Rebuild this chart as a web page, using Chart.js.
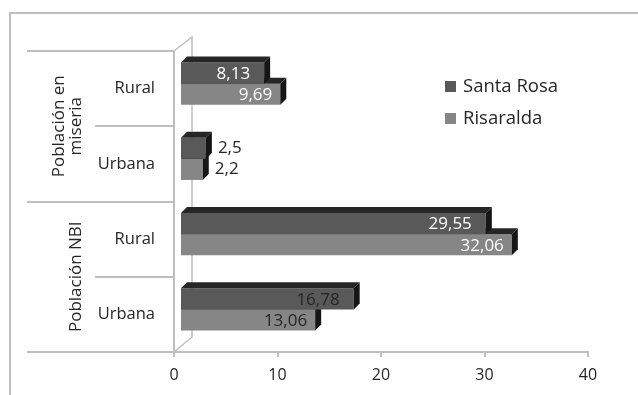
<!DOCTYPE html>
<html>
<head>
<meta charset="utf-8">
<script src="https://cdn.jsdelivr.net/npm/chart.js@4.4.1/dist/chart.umd.min.js"></script>
<style>
  html, body { margin: 0; padding: 0; background: #ffffff; }
  #wrap { width: 638px; height: 395px; position: relative; }
</style>
</head>
<body>
<div id="wrap"><canvas id="chart" width="638" height="395"></canvas></div>
<script>
// Categories (top to bottom) and the two groups they belong to
const categories = ['Rural', 'Urbana', 'Rural', 'Urbana'];
const groupNames = [['Población en', 'miseria'], ['Población NBI']];
const groupSizes = [2, 2];

// Series values (%)
const seriesNames = ['Santa Rosa', 'Risaralda'];
const santaRosa = [8.13, 2.5, 29.55, 16.78];
const risaralda = [9.69, 2.2, 32.06, 13.06];

// Value axis
const xMin = 0;
const xMax = 40;
const xStep = 10;

const FONT = '"Open Sans", "Noto Sans", sans-serif';
const TEXT = '#262626';
const LINE = '#bfbfbf';
const BAR_DEPTH = 6;              // depth of each 3D bar
const WALL_DX = 18, WALL_DY = 15; // depth of the back wall

const fmt = v => String(v).replace('.', ',');

// 3D faces for bars, drawn slightly back inside the depth of the plot
const bars3d = {
  id: 'bars3d',
  beforeDatasetsDraw(chart) {
    const { ctx, chartArea, scales } = chart;
    const x0 = scales.x.getPixelForValue(xMin);
    // back wall outline
    ctx.save();
    ctx.strokeStyle = LINE;
    ctx.lineWidth = 1.5;
    ctx.beginPath();
    ctx.moveTo(x0, chartArea.top);
    ctx.lineTo(x0 + WALL_DX, chartArea.top - WALL_DY + 1);
    ctx.lineTo(x0 + WALL_DX, chartArea.bottom - WALL_DY);
    ctx.lineTo(x0, chartArea.bottom);
    ctx.stroke();
    ctx.restore();

    ctx.save();
    ctx.translate(BAR_DEPTH, -BAR_DEPTH + 1);
  },
  afterDatasetDraw(chart, args) {
    const { ctx } = chart;
    const d = BAR_DEPTH;
    args.meta.data.forEach(bar => {
      const { x, y, base, height } = bar.getProps(['x', 'y', 'base', 'height'], true);
      const top = y - height / 2, bottom = y + height / 2;
      ctx.fillStyle = '#262626';
      ctx.beginPath();
      ctx.moveTo(base, top);
      ctx.lineTo(x, top);
      ctx.lineTo(x + d, top - d);
      ctx.lineTo(base + d, top - d);
      ctx.closePath();
      ctx.fill();
      ctx.fillStyle = '#161616';
      ctx.beginPath();
      ctx.moveTo(x, top);
      ctx.lineTo(x + d, top - d);
      ctx.lineTo(x + d, bottom - d);
      ctx.lineTo(x, bottom);
      ctx.closePath();
      ctx.fill();
    });
  },
  afterDatasetsDraw(chart) {
    const { ctx } = chart;
    ctx.font = '17px ' + FONT;
    ctx.textBaseline = 'middle';
    chart.data.datasets.forEach((ds, i) => {
      const meta = chart.getDatasetMeta(i);
      meta.data.forEach((bar, j) => {
        const { x, y, base } = bar.getProps(['x', 'y', 'base'], true);
        const txt = fmt(ds.data[j]);
        ctx.fillStyle = ds.labelColors[j];
        if (x - base > 45) {
          ctx.textAlign = 'right';
          ctx.fillText(txt, x - ds.labelInset, y + 1);
        } else {
          ctx.textAlign = 'left';
          ctx.fillText(txt, x + BAR_DEPTH + 6, y);
        }
      });
    });
    ctx.restore();
  }
};

// Outer frame, category separators, group titles and legend
const frame = {
  id: 'frame',
  afterDraw(chart) {
    const { ctx, chartArea, scales } = chart;
    const ys = scales.y;
    const x0 = scales.x.getPixelForValue(xMin);
    const boundary = i => i <= 0 ? chartArea.top
      : i >= categories.length ? chartArea.bottom
      : (ys.getPixelForValue(i - 1) + ys.getPixelForValue(i)) / 2;

    ctx.save();
    ctx.strokeStyle = LINE;
    ctx.lineWidth = 2;
    ctx.strokeRect(10, 13, 800, 600);

    // separators in the label column
    let start = 0;
    const groupEdges = [0];
    groupSizes.forEach(n => { start += n; groupEdges.push(start); });
    for (let i = 0; i <= categories.length; i++) {
      const y = Math.round(boundary(i));
      const xs = groupEdges.includes(i) ? 27 : 95;
      ctx.beginPath();
      ctx.moveTo(xs, y);
      ctx.lineTo(x0, y);
      ctx.stroke();
    }

    // group titles, rotated
    ctx.fillStyle = TEXT;
    ctx.font = '17px ' + FONT;
    ctx.textAlign = 'center';
    ctx.textBaseline = 'alphabetic';
    groupNames.forEach((lines, g) => {
      const cy = (boundary(groupEdges[g]) + boundary(groupEdges[g + 1])) / 2;
      const lastBase = 81;
      lines.forEach((line, k) => {
        const bx = lastBase - (lines.length - 1 - k) * 17.5;
        ctx.save();
        ctx.translate(bx, cy);
        ctx.rotate(-Math.PI / 2);
        ctx.fillText(line, 0, 0);
        ctx.restore();
      });
    });

    // legend
    ctx.font = '18.5px ' + FONT;
    ctx.textAlign = 'left';
    ctx.textBaseline = 'middle';
    chart.data.datasets.forEach((ds, i) => {
      const cy = 87 + i * 32;
      ctx.fillStyle = ds.backgroundColor;
      ctx.fillRect(445, cy - 6, 11, 11);
      ctx.fillStyle = TEXT;
      ctx.fillText(ds.label, 463, cy);
    });
    ctx.restore();
  }
};

new Chart(document.getElementById('chart'), {
  type: 'bar',
  data: {
    labels: categories,
    datasets: [
      {
        label: seriesNames[0],
        data: santaRosa,
        backgroundColor: '#595959',
        labelColors: ['#ffffff', TEXT, '#ffffff', TEXT],
        labelInset: 14,
        clip: false
      },
      {
        label: seriesNames[1],
        data: risaralda,
        backgroundColor: '#868686',
        labelColors: ['#ffffff', TEXT, '#ffffff', TEXT],
        labelInset: 8,
        clip: false
      }
    ]
  },
  options: {
    indexAxis: 'y',
    responsive: false,
    animation: false,
    layout: { padding: { top: 51, right: 50, left: 0, bottom: 0 } },
    datasets: { bar: { barPercentage: 1, categoryPercentage: 0.56, borderWidth: 0 } },
    plugins: { legend: { display: false }, tooltip: { enabled: false } },
    scales: {
      x: {
        min: xMin,
        max: xMax,
        ticks: { stepSize: xStep, color: TEXT, font: { family: FONT, size: 16 }, padding: 9 },
        grid: { drawOnChartArea: false, drawTicks: true, tickLength: 5, color: LINE, lineWidth: 2 },
        border: { display: true, color: LINE, width: 2 },
        afterFit: s => { s.height = 43; }
      },
      y: {
        ticks: { color: TEXT, font: { family: FONT, size: 16.5 }, padding: 19 },
        grid: { display: false, drawTicks: false },
        border: { display: true, color: LINE, width: 2 },
        afterFit: s => { s.width = 174; }
      }
    }
  },
  plugins: [bars3d, frame]
});
</script>
</body>
</html>
